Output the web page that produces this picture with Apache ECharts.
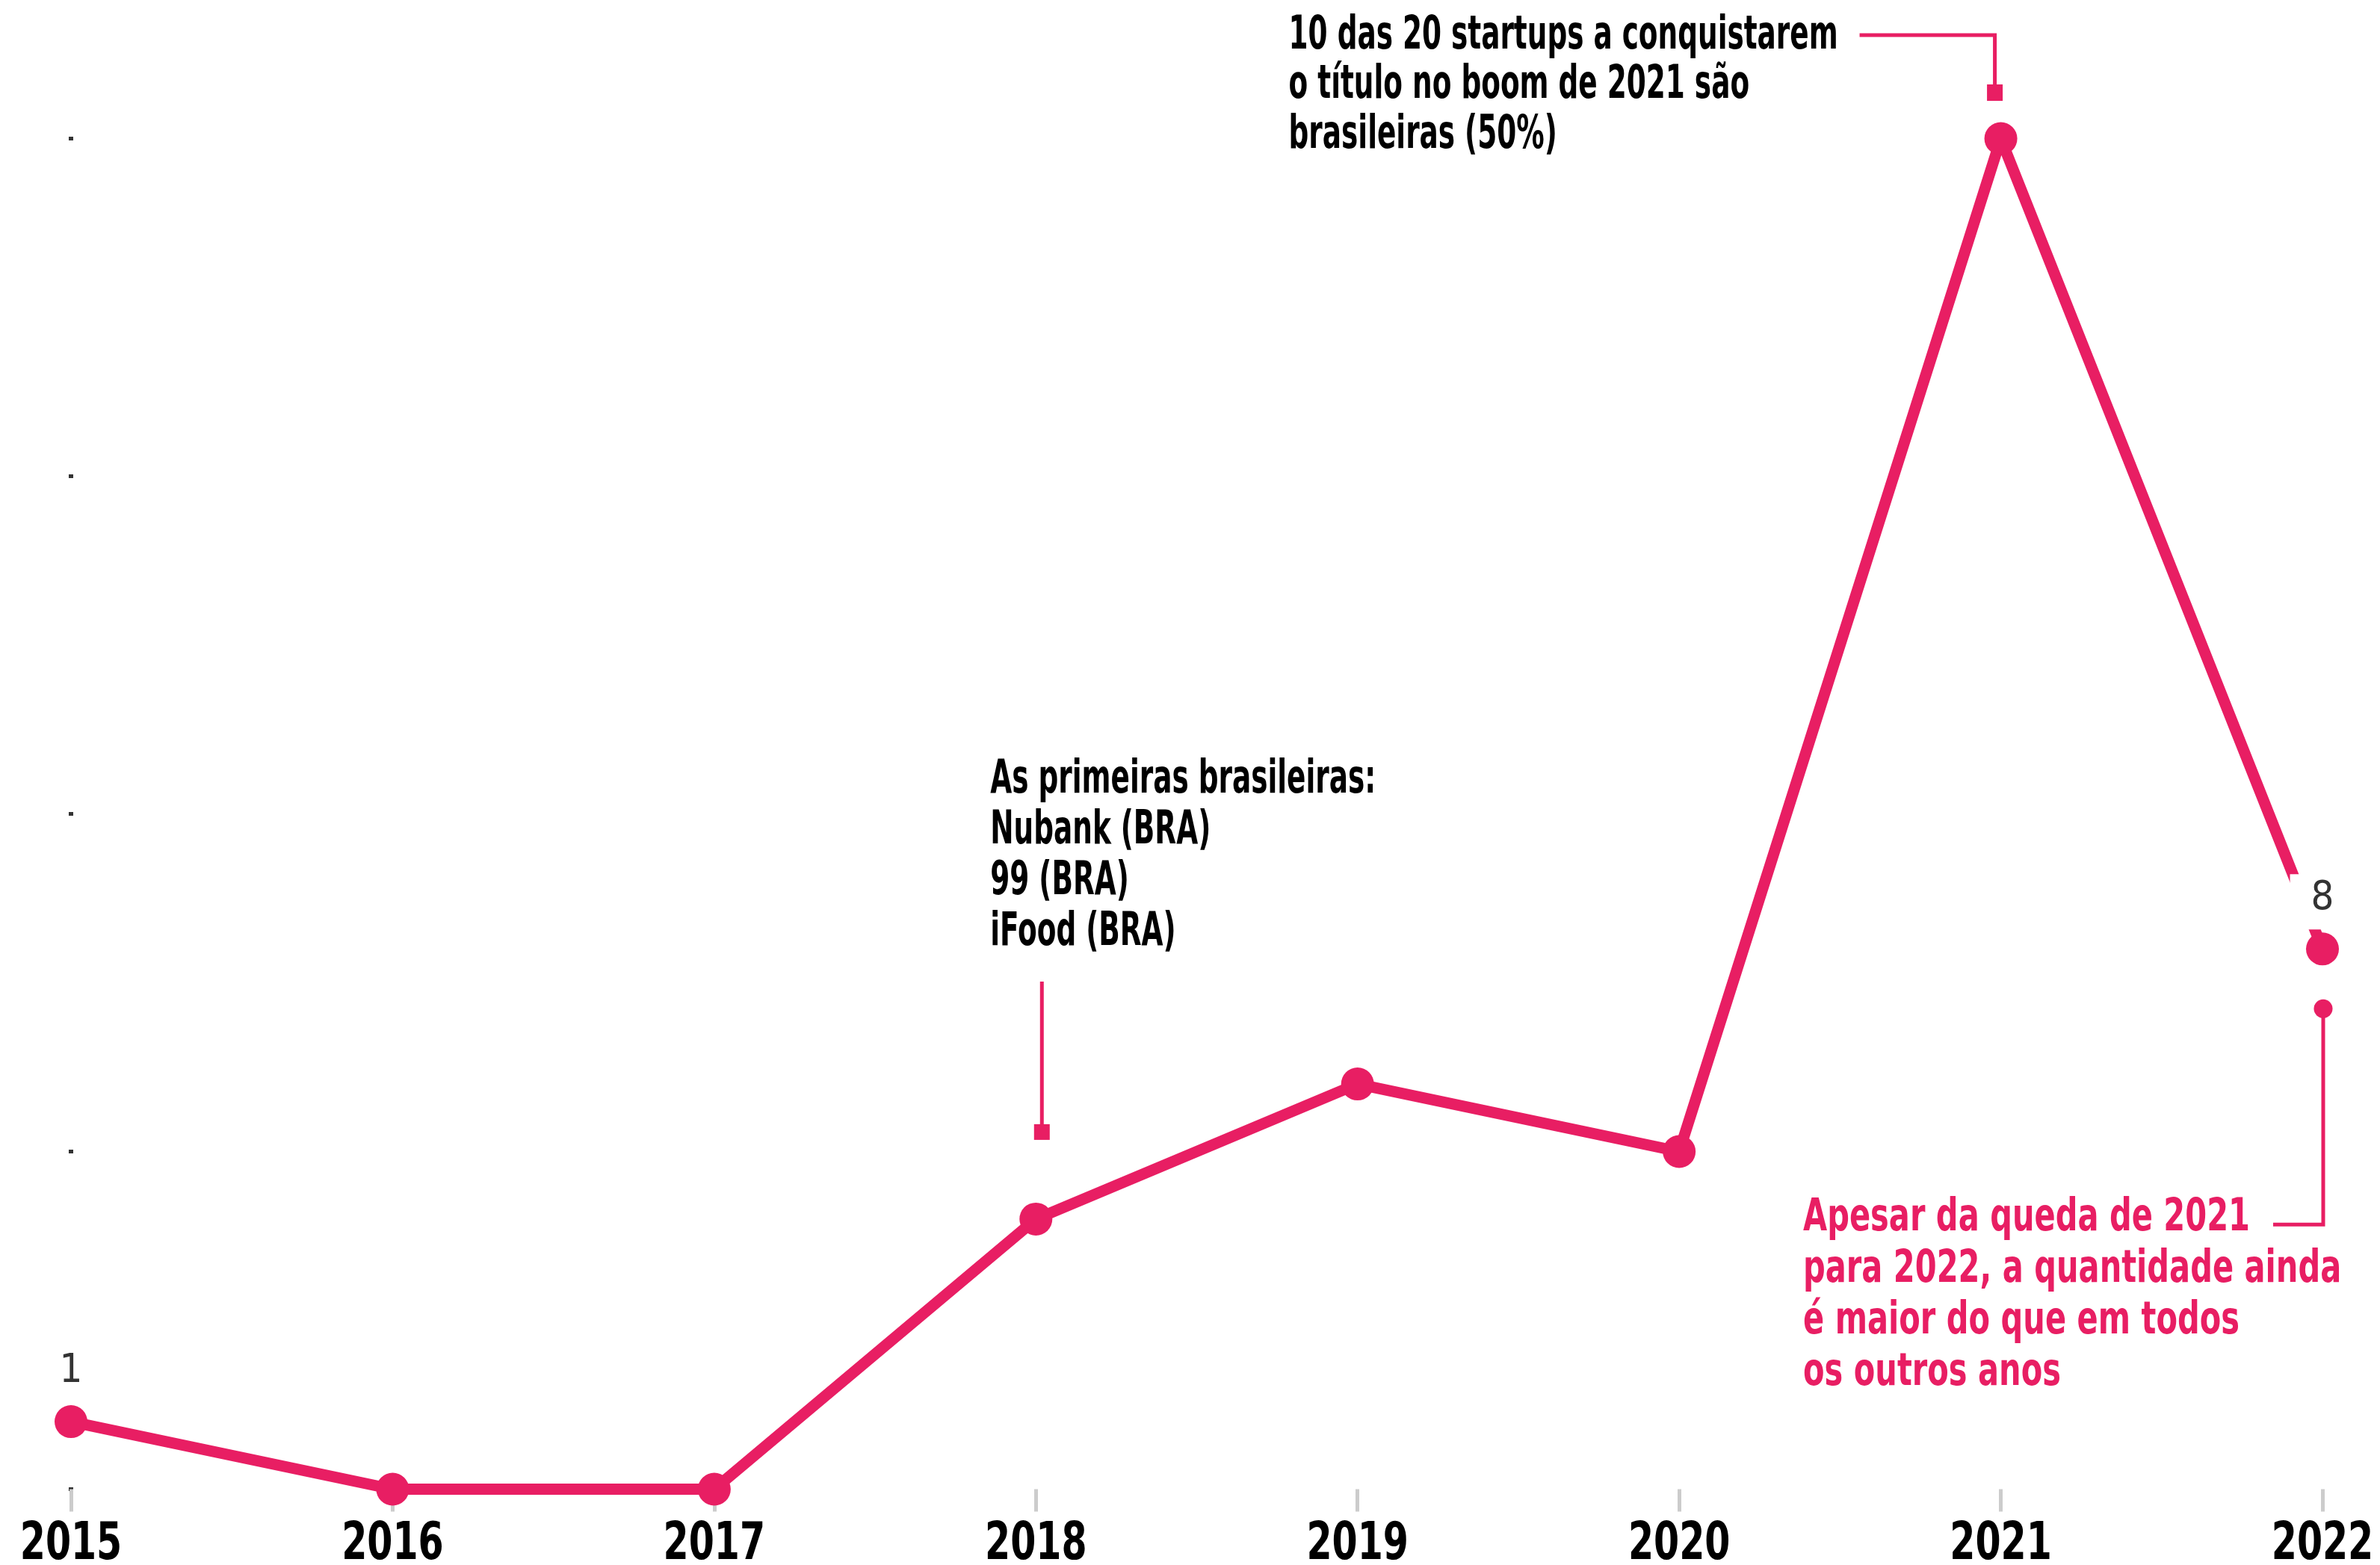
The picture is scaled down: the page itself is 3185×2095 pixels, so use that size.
<!DOCTYPE html>
<html>
<head>
<meta charset="utf-8">
<script src="https://cdn.jsdelivr.net/npm/echarts@6/dist/echarts.min.js"></script>
<style>
  html, body { margin: 0; padding: 0; background: #fff; }
  #chart { width: 3185px; height: 2095px; }
</style>
</head>
<body>
<div id="chart"></div>
<script>
// Unicórnios por ano
const years = ['2015', '2016', '2017', '2018', '2019', '2020', '2021', '2022'];
const counts = [1, 0, 0, 4, 6, 5, 20, 8];
const labelledYears = ['2015', '2022'];

// Notas de texto
const note2018 = ['As primeiras brasileiras:', 'Nubank (BRA)', '99 (BRA)', 'iFood (BRA)'];
const note2021 = ['10 das 20 startups a conquistarem', 'o título no boom de 2021 são', 'brasileiras (50%)'];
const note2022 = ['Apesar da queda de 2021', 'para 2022, a quantidade ainda', 'é maior do que em todos', 'os outros anos'];

const PINK = '#e81e63';
const NARROW = '"Liberation Sans Narrow", "DejaVu Sans Condensed", "Roboto Condensed", sans-serif';

const chart = echarts.init(document.getElementById('chart'), null, { renderer: 'canvas' });

chart.setOption({
  animation: false,
  backgroundColor: '#fff',
  grid: { left: 95, right: 77, top: 185.5, bottom: 101.5 },
  xAxis: {
    type: 'category',
    data: years,
    boundaryGap: false,
    axisLine: { show: false },
    axisTick: { show: true, length: 30, lineStyle: { color: '#cccccc', width: 5 } },
    // os rótulos dos anos são desenhados abaixo como texto condensado
    axisLabel: { show: false }
  },
  yAxis: {
    type: 'value',
    min: 0, max: 20, interval: 5,
    offset: 3,
    axisLine: { show: false },
    axisLabel: { show: false },
    splitLine: { show: false },
    axisTick: { show: true, inside: true, length: 6, lineStyle: { color: '#333', width: 5 } }
  },
  series: [{
    type: 'line',
    data: counts.map((v, i) => labelledYears.includes(years[i]) ? { value: v, label: { show: true } } : v),
    symbol: 'circle',
    symbolSize: 44,
    lineStyle: { color: PINK, width: 15 },
    itemStyle: { color: PINK },
    label: {
      show: false, position: 'top', distance: 4,
      fontFamily: NARROW, fontSize: 54, color: '#333',
      backgroundColor: '#fff', padding: [6, 28, 14, 28]
    }
  }]
});

// Converte ano/valor em pixels
function at(year, v) {
  return chart.convertToPixel({ seriesIndex: 0 }, [years.indexOf(year), v]);
}

// Texto condensado, posicionado pela linha de base
function condensed(t, x, baseline, size, color, squeeze, align) {
  return {
    type: 'text',
    x: x,
    y: baseline - 0.3465 * size,
    scaleX: squeeze,
    style: {
      text: t,
      fill: color,
      font: 'bold ' + size + 'px ' + NARROW,
      textAlign: align || 'left',
      textVerticalAlign: 'middle'
    }
  };
}

function textBlock(lines, x, firstBaseline, step, size, color, squeeze) {
  return lines.map((t, i) => condensed(t, x, firstBaseline + i * step, size, color, squeeze));
}

const g = [];

// Rótulos do eixo x
const axisBase = at(years[0], 0)[1];
years.forEach((y, i) => {
  const p = at(y, 0);
  g.push(condensed(y, p[0], axisBase + 99, 69, '#000', 0.79, 'center'));
});

const p18 = at('2018', counts[years.indexOf('2018')]);
const p21 = at('2021', counts[years.indexOf('2021')]);
const p22 = at('2022', counts[years.indexOf('2022')]);

// Nota 2018
g.push(...textBlock(note2018, p18[0] - 61, p18[1] - 565, 67.7, 63, '#000', 0.66));
g.push({ type: 'line', shape: { x1: p18[0] + 8, y1: p18[1] - 318, x2: p18[0] + 8, y2: p18[1] - 120 }, style: { stroke: PINK, lineWidth: 5 } });
g.push({ type: 'rect', shape: { x: p18[0] - 2.5, y: p18[1] - 127, width: 21, height: 21 }, style: { fill: PINK } });

// Nota 2021
g.push(...textBlock(note2021, p21[0] - 953, p21[1] - 115.5, 66.5, 63, '#000', 0.66));
g.push({ type: 'polyline', shape: { points: [[p21[0] - 189, p21[1] - 138.5], [p21[0] - 8, p21[1] - 138.5], [p21[0] - 8, p21[1] - 70]] }, style: { stroke: PINK, lineWidth: 5, fill: null } });
g.push({ type: 'rect', shape: { x: p21[0] - 18.5, y: p21[1] - 72.5, width: 21, height: 22 }, style: { fill: PINK } });

// Nota 2022
g.push(...textBlock(note2022, p22[0] - 695, p22[1] + 382, 69, 60, PINK, 0.77));
g.push({ type: 'polyline', shape: { points: [[p22[0] - 66, p22[1] + 369], [p22[0] + 1, p22[1] + 369], [p22[0] + 1, p22[1] + 85]] }, style: { stroke: PINK, lineWidth: 5, fill: null } });
g.push({ type: 'circle', shape: { cx: p22[0] + 1, cy: p22[1] + 80, r: 12.5 }, style: { fill: PINK } });

chart.setOption({ graphic: g });
</script>
</body>
</html>
